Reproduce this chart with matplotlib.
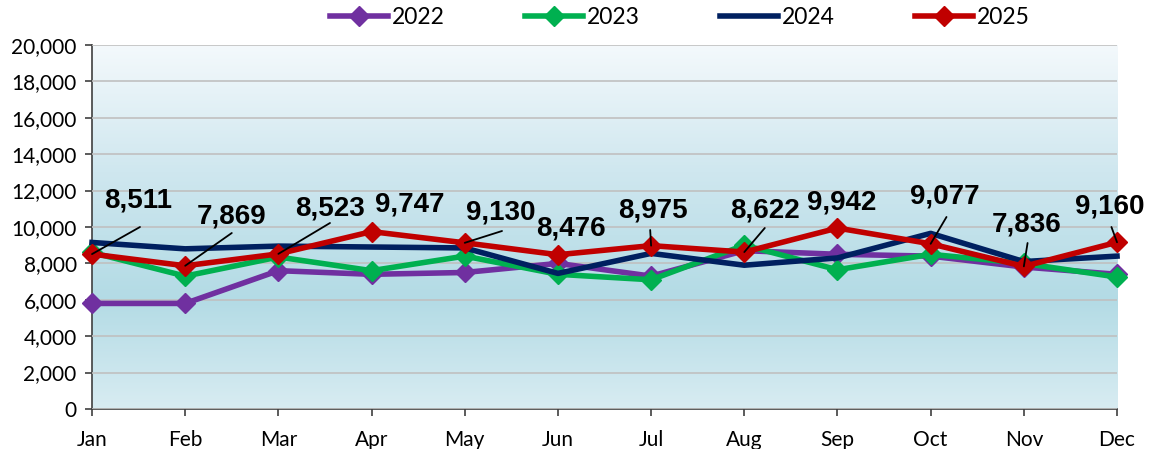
"""Monthly totals 2022-2025, line chart with labelled 2025 values."""
import matplotlib.pyplot as plt
import numpy as np
from matplotlib.colors import LinearSegmentedColormap
from matplotlib.ticker import FuncFormatter, MultipleLocator

months = ["Jan", "Feb", "Mar", "Apr", "May", "Jun",
          "Jul", "Aug", "Sep", "Oct", "Nov", "Dec"]
vals_2022 = [5800, 5800, 7600, 7400, 7500, 8000,
             7300, 8700, 8500, 8400, 7800, 7400]
vals_2023 = [8600, 7300, 8350, 7600, 8400, 7400,
             7100, 9000, 7650, 8500, 8000, 7250]
vals_2024 = [9150, 8800, 8950, 8900, 8850, 7450,
             8550, 7900, 8300, 9650, 8100, 8400]
vals_2025 = [8511, 7869, 8523, 9747, 9130, 8476,
             8975, 8622, 9942, 9077, 7836, 9160]

# label centres (month index, value) for the 2025 annotations
label_pos = [(0.49, 11480), (1.50, 10600), (2.55, 11040), (3.41, 11260),
             (4.39, 10820), (5.14, 9890), (6.02, 10880), (7.22, 10880),
             (8.05, 11320), (9.15, 11650), (10.03, 10160), (10.92, 11100)]
# where the leader line leaves the label (None = no leader)
leader_start = [(0.515, 10000), (1.50, 9670), (2.554, 10220), None,
                (4.40, 9780), None, (5.99, 9835), (7.22, 9945), None,
                (9.17, 10550), (10.04, 9120), (10.94, 10000)]

plt.rcParams['font.family'] = ['Lato', 'DejaVu Sans']

fig = plt.figure(figsize=(11.53, 4.49), dpi=100)
ax = fig.add_axes([0.0798, 0.0891, 0.8890, 0.8107])

x = np.arange(len(months))

# gradient background
cmap = LinearSegmentedColormap.from_list(
    "bg", [(0.0, "#d8ecf2"), (0.3, "#b3dbe5"), (0.65, "#cfe7ef"),
           (1.0, "#f4f9fc")])
grad = np.linspace(0, 1, 256).reshape(-1, 1)
ax.imshow(grad, aspect="auto", cmap=cmap, extent=[0, 11, 0, 20000],
          origin="lower", zorder=0)

ax.set_xlim(0, 11)
ax.set_ylim(0, 20000)
ax.yaxis.set_major_locator(MultipleLocator(2000))
ax.yaxis.set_major_formatter(FuncFormatter(lambda v, p: f"{v:,.0f}"))
ax.grid(axis="y", color="#c0c0c0", linewidth=1.2, zorder=1)
ax.set_axisbelow(False)

lw = 4.0
ms = 10.5
ax.plot(x, vals_2022, color="#7030a0", lw=lw, marker="D", ms=ms,
        label="2022", zorder=3, clip_on=False)
ax.plot(x, vals_2023, color="#00b050", lw=lw, marker="D", ms=ms,
        label="2023", zorder=3, clip_on=False)
ax.plot(x, vals_2024, color="#002060", lw=lw, label="2024", zorder=4,
        clip_on=False)
ax.plot(x, vals_2025, color="#c00000", lw=lw, marker="D", ms=ms,
        label="2025", zorder=5, clip_on=False)

for i, v in enumerate(vals_2025):
    tx, ty = label_pos[i]
    ax.text(tx, ty, f"{v:,}", ha="center", va="center", fontsize=20,
            fontweight="bold", family="Liberation Sans", zorder=7)
    if leader_start[i] is not None:
        ax.annotate("", xy=(i, v), xytext=leader_start[i],
                    arrowprops=dict(arrowstyle="-", color="black", lw=1.3,
                                    shrinkA=0, shrinkB=0),
                    zorder=6)

ax.set_xticks(x)
ax.set_xticklabels(months)
ax.tick_params(axis="both", direction="out", length=5, width=1.2,
               color="#404040", labelsize=15)
ax.tick_params(axis="x", pad=10)
ax.tick_params(axis="y", pad=6)
for s in ["top", "right"]:
    ax.spines[s].set_visible(False)
for s in ["left", "bottom"]:
    ax.spines[s].set_color("#404040")
    ax.spines[s].set_linewidth(1.2)

fig.legend(loc="center", bbox_to_anchor=(0.59, 0.96), ncol=4,
           frameon=False, fontsize=16.5, handlelength=2.5,
           columnspacing=3.5, handletextpad=0.2, borderaxespad=0)

fig.savefig("out.png", dpi=100)
